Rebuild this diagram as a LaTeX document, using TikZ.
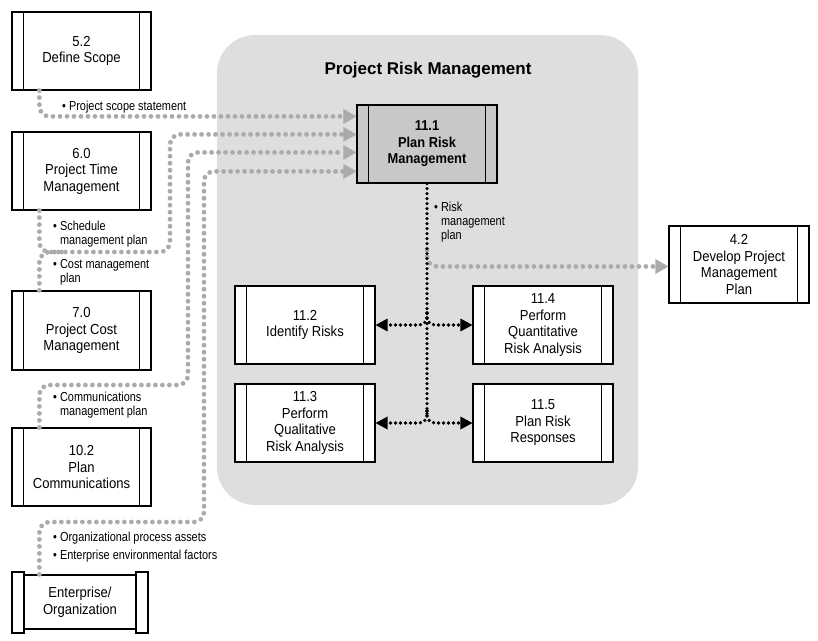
\documentclass[tikz,border=0pt]{standalone}
\usepackage{fontspec}
\setmainfont{Liberation Sans}[FakeStretch=0.9]
\newfontfamily\lblfont{Liberation Sans}[FakeStretch=0.84]
\newfontfamily\titlefont{Liberation Sans}
\usetikzlibrary{arrows.meta}
\definecolor{panegray}{HTML}{DEDEDE}
\definecolor{hlgray}{HTML}{C8C8C8}
\definecolor{dotgray}{HTML}{ABABAB}
\tikzset{
  proc/.style={draw, line width=1.2pt, fill=white, minimum width=139pt, minimum height=78pt,
    align=center, inner sep=0pt, font=\fontsize{14.5}{16.5}\selectfont},
  lbl/.style={anchor=west, align=left, inner sep=0pt, font=\lblfont\fontsize{13}{14}\selectfont},
  grayflow/.style={draw=dotgray, line width=4.8pt, line cap=round, dash pattern=on 0pt off 7pt,
    rounded corners=10pt},
  grayarrow/.style={grayflow, -{Triangle[length=13pt,width=15pt,line width=0pt 0,fill=dotgray]}},
  blackflow/.style={draw=black, line width=3.6pt, line cap=round, dash pattern=on 0pt off 5pt,
    rounded corners=8pt},
  blackarrow/.style={blackflow, -{Triangle[length=12pt,width=13pt,line width=0pt 0]}}
}
\begin{document}
\begin{tikzpicture}[x=1pt,y=-1pt]
\useasboundingbox (0,0) rectangle (818,640);
% pane
\node[fill=panegray, rounded corners=38pt, minimum width=421pt, minimum height=470pt, inner sep=0pt] (pane) at (427.5,270) {};
\node[font=\titlefont\bfseries\fontsize{17}{20}\selectfont] (title) at (428,70) {Project Risk Management};

% process boxes
\node[proc] (s52) at (81.5,51) {5.2\\Define Scope};
\node[proc] (s60) at (81.5,171) {6.0\\Project Time\\Management};
\node[proc, minimum height=79pt] (s70) at (81.5,330.5) {7.0\\Project Cost\\Management};
\node[proc] (s102) at (81.5,467) {10.2\\Plan\\Communications};
\node[proc, fill=hlgray, minimum width=140pt, font=\bfseries\fontsize{14.3}{16.5}\selectfont] (r111) at (427,144) {11.1\\Plan Risk\\Management};
\node[proc, minimum width=140pt, minimum height=77pt] (r42) at (739,264.5) {4.2\\Develop Project\\Management\\Plan};
\node[proc, minimum width=140pt] (r112) at (305,325) {11.2\\Identify Risks};
\node[proc, minimum width=140pt] (r114) at (543,325) {11.4\\Perform\\Quantitative\\Risk Analysis};
\node[proc, minimum width=140pt] (r113) at (305,423) {11.3\\Perform\\Qualitative\\Risk Analysis};
\node[proc, minimum width=140pt] (r115) at (543,423) {11.5\\Plan Risk\\Responses};
% enterprise
\draw[line width=1.2pt, fill=white] (12,572) rectangle (24,633);
\draw[line width=1.2pt, fill=white] (136,572) rectangle (148,633);
\node[proc, minimum width=112pt, minimum height=54pt] (ent) at (80,602) {Enterprise/\\Organization};

\foreach \n in {s52,s60,s70,s102,r111,r42,r112,r114,r113,r115}{
  \draw[line width=1.2pt] ([xshift=12pt]\n.north west) -- ([xshift=12pt]\n.south west);
  \draw[line width=1.2pt] ([xshift=-12pt]\n.north east) -- ([xshift=-12pt]\n.south east);
}

% bend coordinates
\coordinate (b1) at (170,252);
\coordinate (b1s) at (62,252);
\coordinate (b2) at (188,385);
\coordinate (b3) at (204,522);
\coordinate (jr) at (427,250);
\coordinate (ja) at (427,313);
\coordinate (jb) at (427,411);
\coordinate (jend) at (427,414);

% gray input flows
\draw[grayarrow] ([xshift=28pt]s52.south west) |- ([yshift=-12pt]r111.north west);
\draw[grayarrow] ([xshift=28pt]s60.south west) |- (b1) |- ([yshift=-30pt]r111.north west);
\draw[grayflow] ([xshift=28pt]s70.north west) |- (b1s);
\draw[grayarrow] ([xshift=28pt]s102.north west) |- (b2) |- ([yshift=-48pt]r111.north west);
\draw[grayarrow] ([xshift=16pt]ent.north west) |- (b3) |- ([yshift=-67pt]r111.north west);
% output to 4.2
\draw[grayarrow] (jr) |- ([yshift=-2pt]r42.west);

% black flows
\draw[blackflow] (r111.south) -- (jend);
\draw[blackarrow] (ja) |- (r112.east);
\draw[blackarrow] (ja) |- (r114.west);
\draw[blackarrow] (jb) |- (r113.east);
\draw[blackarrow] (jb) |- (r115.west);

% labels
\node[lbl] (l1) at (62,107) {\textbullet\ Project scope statement};
\node[lbl] (l2) at (53,234) {\textbullet\ Schedule\\\hphantom{\textbullet\ }management plan};
\node[lbl] (l3) at (53,272.5) {\textbullet\ Cost management\\\hphantom{\textbullet\ }plan};
\node[lbl] (l4) at (53,405.5) {\textbullet\ Communications\\\hphantom{\textbullet\ }management plan};
\node[lbl, font=\lblfont\fontsize{13}{18}\selectfont] (l5) at (53,547) {\textbullet\ Organizational process assets\\\textbullet\ Enterprise environmental factors};
\node[lbl] (l6) at (434,222.5) {\textbullet\ Risk\\\hphantom{\textbullet\ }management\\\hphantom{\textbullet\ }plan};
\end{tikzpicture}
\end{document}
